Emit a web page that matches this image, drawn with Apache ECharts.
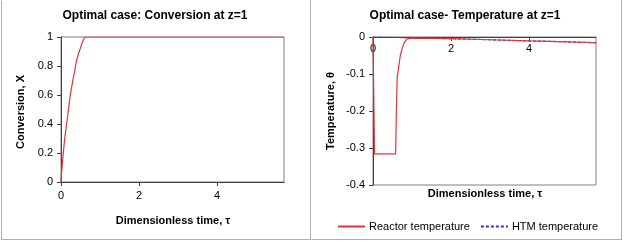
<!DOCTYPE html>
<html><head><meta charset="utf-8">
<script src="https://cdn.jsdelivr.net/npm/echarts@6/dist/echarts.min.js"></script>
<style>html,body{margin:0;padding:0;background:#fff}#c{width:624px;height:241px}</style>
</head><body><div id="c"></div>
<script>
// Left panel: conversion at z=1
var convTau = [0, 0.02, 0.06, 0.1, 0.145, 0.2, 0.25, 0.3, 0.35, 0.4, 0.45, 0.5, 0.55, 0.6, 0.63, 1, 2, 3, 4, 5, 5.72];
var convX   = [0, 0.08, 0.2, 0.31, 0.40, 0.52, 0.62, 0.695, 0.765, 0.84, 0.885, 0.925, 0.965, 0.995, 1, 1, 1, 1, 1, 1, 1];
// Right panel: temperatures at z=1
var reactorTau  = [0, 0.04, 0.58, 0.6, 0.62, 0.66, 0.7, 0.75, 0.8, 0.87, 1, 2, 3, 4, 5, 5.72];
var reactorTemp = [0, -0.316, -0.316, -0.2, -0.11, -0.08, -0.05, -0.03, -0.015, -0.005, -0.003, -0.0045, -0.0075, -0.0105, -0.013, -0.0155];
var htmTau  = [0, 1, 2, 3, 4, 5, 5.72];
var htmTemp = [0, -0.002, -0.0045, -0.0075, -0.0105, -0.013, -0.0155];
var xTicks = [0, 2, 4];
var convTicks = [0, 0.2, 0.4, 0.6, 0.8, 1];
var tempTicks = [-0.4, -0.3, -0.2, -0.1, 0];

function pairs(a, b) { return a.map(function (v, i) { return [v, b[i]]; }); }

var FONT = 'Liberation Sans, Arial, sans-serif';
var RED = '#e8313a', BLUE = '#3535c8';
var axisLine = { lineStyle: { color: '#404040', width: 1 } };
var lbl = { color: '#000', fontSize: 11, fontFamily: FONT };

var chart = echarts.init(document.getElementById('c'), null, { renderer: 'canvas' });
chart.setOption({
  animation: false,
  backgroundColor: '#fff',
  grid: [
    { left: 61, top: 37, width: 223, height: 145, show: true, borderColor: '#808080', borderWidth: 1, backgroundColor: '#fff' },
    { left: 373, top: 37, width: 223, height: 148, show: true, borderColor: '#808080', borderWidth: 1, backgroundColor: '#fff' }
  ],
  xAxis: [
    { gridIndex: 0, type: 'value', min: 0, max: 5.72, interval: 2, axisLine: axisLine,
      axisTick: { show: true, length: 4, lineStyle: { color: '#404040' } },
      axisLabel: Object.assign({ margin: 8, showMaxLabel: false, formatter: function (v) { return xTicks.indexOf(v) >= 0 ? String(v) : ''; } }, lbl),
      splitLine: { show: false } },
    { gridIndex: 1, type: 'value', min: 0, max: 5.72, interval: 2, position: 'top', axisLine: axisLine,
      axisTick: { show: true, inside: true, length: 4, lineStyle: { color: '#404040' } },
      axisLabel: Object.assign({ inside: true, margin: 6, showMaxLabel: false, formatter: function (v) { return xTicks.indexOf(v) >= 0 ? String(v) : ''; } }, lbl),
      splitLine: { show: false } }
  ],
  yAxis: [
    { gridIndex: 0, type: 'value', min: convTicks[0], max: convTicks[convTicks.length - 1], interval: 0.2, axisLine: axisLine,
      axisTick: { show: true, length: 4, lineStyle: { color: '#404040' } },
      axisLabel: Object.assign({ margin: 8, formatter: function (v) { return String(+v.toFixed(1)); } }, lbl),
      splitLine: { show: false } },
    { gridIndex: 1, type: 'value', min: tempTicks[0], max: tempTicks[tempTicks.length - 1], interval: 0.1, axisLine: Object.assign({ onZero: false }, axisLine),
      axisTick: { show: true, length: 4, lineStyle: { color: '#404040' } },
      axisLabel: Object.assign({ margin: 8, formatter: function (v) { return String(+v.toFixed(1)); } }, lbl),
      splitLine: { show: false } }
  ],
  legend: {
    left: 332, top: 216, itemWidth: 27, itemHeight: 10, itemGap: 10,
    itemStyle: { opacity: 0, borderWidth: 0 },
    textStyle: { color: '#000', fontSize: 11, fontFamily: FONT, padding: [0, 0, 0, -1] },
    data: ['Reactor temperature', 'HTM temperature']
  },
  series: [
    { name: 'Conversion', type: 'line', xAxisIndex: 0, yAxisIndex: 0, data: pairs(convTau, convX),
      symbol: 'none', smooth: 0.3, lineStyle: { color: RED, width: 1.2 }, itemStyle: { color: RED } },
    { name: 'HTM temperature', type: 'line', xAxisIndex: 1, yAxisIndex: 1, data: pairs(htmTau, htmTemp),
      symbol: 'none', lineStyle: { color: BLUE, width: 1.2, type: [3, 2] }, itemStyle: { color: BLUE } },
    { name: 'Reactor temperature', type: 'line', xAxisIndex: 1, yAxisIndex: 1, data: pairs(reactorTau, reactorTemp),
      symbol: 'none', lineStyle: { color: RED, width: 1.2 }, itemStyle: { color: RED } }
  ],
  graphic: [
    { type: 'line', shape: { x1: 1.5, y1: 1, x2: 1.5, y2: 239.5 }, style: { stroke: '#b0b0b0', lineWidth: 1 }, silent: true },
    { type: 'line', shape: { x1: 1, y1: 239.5, x2: 622, y2: 239.5 }, style: { stroke: '#b0b0b0', lineWidth: 1 }, silent: true },
    { type: 'line', shape: { x1: 310.5, y1: 0, x2: 310.5, y2: 240 }, style: { stroke: '#b0b0b0', lineWidth: 1 }, silent: true },
    { type: 'line', shape: { x1: 621.5, y1: 0, x2: 621.5, y2: 240 }, style: { stroke: '#b0b0b0', lineWidth: 1 }, silent: true },
    { type: 'text', x: 155, y: 16, style: { text: 'Optimal case: Conversion at z=1', fontSize: 12, fontWeight: 'bold', fontFamily: FONT, fill: '#000', align: 'center', verticalAlign: 'middle' } },
    { type: 'text', x: 465, y: 16, style: { text: 'Optimal case- Temperature at z=1', fontSize: 12, fontWeight: 'bold', fontFamily: FONT, fill: '#000', align: 'center', verticalAlign: 'middle' } },
    { type: 'text', x: 173, y: 221, style: { text: 'Dimensionless time, τ', fontSize: 11, fontWeight: 'bold', fontFamily: FONT, fill: '#000', align: 'center', verticalAlign: 'middle' } },
    { type: 'text', x: 485, y: 194, style: { text: 'Dimensionless time, τ', fontSize: 11, fontWeight: 'bold', fontFamily: FONT, fill: '#000', align: 'center', verticalAlign: 'middle' } },
    { type: 'text', x: 21, y: 112, rotation: Math.PI / 2, style: { text: 'Conversion, X', fontSize: 11, fontWeight: 'bold', fontFamily: FONT, fill: '#000', align: 'center', verticalAlign: 'middle' } },
    { type: 'text', x: 331, y: 111, rotation: Math.PI / 2, style: { text: 'Temperature, θ', fontSize: 11, fontWeight: 'bold', fontFamily: FONT, fill: '#000', align: 'center', verticalAlign: 'middle' } }
  ]
});
</script></body></html>
